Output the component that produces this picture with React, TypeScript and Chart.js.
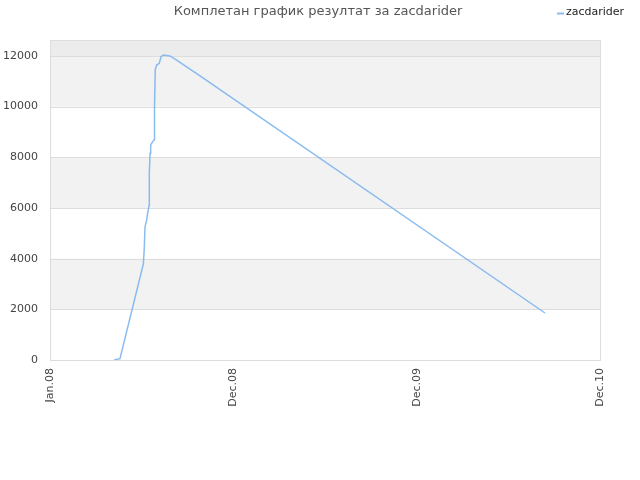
import { useEffect, useRef } from "react";
import { Chart, registerables } from "chart.js";
import type { Plugin } from "chart.js";

Chart.register(...registerables);

// x is in months since Jan 2008 (0..36), y is the score
const tickLabels = ["Jan.08", "Dec.08", "Dec.09", "Dec.10"];
const xValues = [
  4.19, 4.58, 6.11, 6.17, 6.22, 6.33, 6.39, 6.48, 6.5, 6.55, 6.59, 6.72, 6.81,
  6.81, 6.87, 6.89, 6.98, 7.15, 7.27, 7.42, 7.85, 8.29, 9.82, 32.4,
];
const scores = [
  0, 50, 3790, 4410, 5260, 5530, 5790, 6090, 7370, 8160, 8490, 8620, 8680,
  9340, 10000, 11450, 11640, 11710, 11970, 12040, 12000, 11840, 11210, 1855,
];
const titleText = "Комплетан график резултат за zacdarider";
const seriesName = "zacdarider";

const FONT = "'DejaVu Sans', sans-serif";
const LINE = "rgba(125,180,240,0.9)";

const bandsPlugin: Plugin = {
  id: "bands",
  beforeDatasetsDraw(chart) {
    const { ctx, chartArea: a, scales } = chart;
    const y = scales.y;
    ctx.save();
    for (let v = 2000; v < 12000; v += 4000) {
      const top = y.getPixelForValue(v + 2000);
      const bottom = y.getPixelForValue(v);
      ctx.fillStyle = "#f2f2f2";
      ctx.fillRect(a.left, top, a.right - a.left, bottom - top);
    }
    const t12 = y.getPixelForValue(12000);
    ctx.fillStyle = "#ececec";
    ctx.fillRect(a.left, a.top, a.right - a.left, t12 - a.top);
    // grid lines
    ctx.strokeStyle = "#dddddd";
    ctx.lineWidth = 1;
    for (let v = 2000; v <= 12000; v += 2000) {
      const py = Math.round(y.getPixelForValue(v)) + 0.5;
      ctx.beginPath();
      ctx.moveTo(a.left, py);
      ctx.lineTo(a.right, py);
      ctx.stroke();
    }
    ctx.strokeRect(
      Math.round(a.left) + 0.5,
      Math.round(a.top) + 0.5,
      Math.round(a.right - a.left),
      Math.round(a.bottom - a.top)
    );
    ctx.restore();
  },
  afterDraw(chart) {
    const { ctx } = chart;
    ctx.save();
    ctx.font = `13px ${FONT}`;
    ctx.fillStyle = "#555555";
    ctx.textAlign = "center";
    ctx.textBaseline = "middle";
    ctx.fillText(titleText, 318, 12);
    // legend
    ctx.strokeStyle = LINE;
    ctx.lineWidth = 2;
    ctx.beginPath();
    ctx.moveTo(557, 13.5);
    ctx.lineTo(564, 13.5);
    ctx.stroke();
    ctx.font = `11px ${FONT}`;
    ctx.fillStyle = "#222222";
    ctx.textAlign = "left";
    ctx.fillText(seriesName, 566, 12);
    ctx.restore();
  },
};

export default function App() {
  const canvasRef = useRef<HTMLCanvasElement | null>(null);

  useEffect(() => {
    if (!canvasRef.current) return;
    const chart = new Chart(canvasRef.current, {
      type: "line",
      data: {
        datasets: [
          {
            label: seriesName,
            data: xValues.map((x, i) => ({ x, y: scores[i] })),
            borderColor: LINE,
            backgroundColor: LINE,
            borderWidth: 1.5,
            pointRadius: 0,
            tension: 0,
          },
        ],
      },
      options: {
        responsive: false,
        animation: false,
        layout: { padding: { top: 40, right: 40, bottom: 0, left: 0 } },
        plugins: {
          title: { display: false },
          tooltip: { enabled: false },
          legend: { display: false },
        },
        scales: {
          x: {
            type: "linear",
            min: 0,
            max: 36,
            grid: { display: false, drawTicks: false },
            border: { display: false },
            afterBuildTicks: (s: any) => {
              s.ticks = [0, 12, 24, 36].map((v) => ({ value: v }));
            },
            afterFit: (s: any) => {
              s.height = 120;
            },
            ticks: {
              minRotation: 90,
              maxRotation: 90,
              padding: 8,
              color: "#444",
              font: { family: FONT, size: 11 },
              callback: (v: any) => tickLabels[Math.round(Number(v) / 12)],
            },
          },
          y: {
            min: 0,
            max: 12630,
            grid: { display: false, drawTicks: false },
            border: { display: false },
            afterBuildTicks: (s: any) => {
              s.ticks = [0, 2000, 4000, 6000, 8000, 10000, 12000].map((v) => ({ value: v }));
            },
            afterFit: (s: any) => {
              s.width = 50;
            },
            ticks: {
              padding: 12,
              color: "#444",
              font: { family: FONT, size: 11 },
              callback: (v: any) => String(v),
            },
          },
        },
      },
      plugins: [bandsPlugin],
    });
    return () => chart.destroy();
  }, []);

  return (
    <div style={{ position: "absolute", left: 0, top: 0, width: 640, height: 480, background: "#fff" }}>
      <canvas ref={canvasRef} width={640} height={480} />
    </div>
  );
}
